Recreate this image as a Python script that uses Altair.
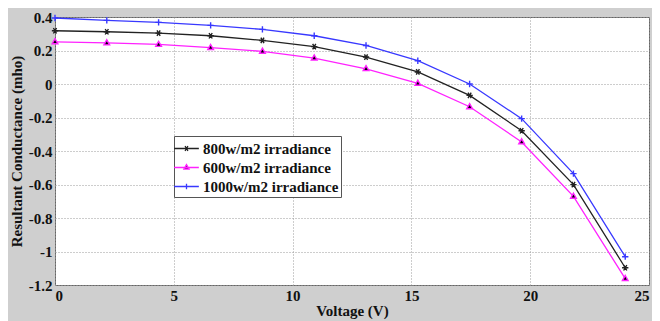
import altair as alt
import pandas as pd

voltage = [0.0, 2.18, 4.36, 6.55, 8.73, 10.91, 13.09, 15.27, 17.45, 19.64, 21.82, 24.0]
g800 = [0.318, 0.312, 0.304, 0.288, 0.260, 0.223, 0.161, 0.072, -0.068, -0.279, -0.601, -1.097]
g600 = [0.252, 0.245, 0.236, 0.217, 0.195, 0.155, 0.091, 0.004, -0.136, -0.346, -0.671, -1.162]
g1000 = [0.394, 0.380, 0.368, 0.350, 0.326, 0.288, 0.230, 0.139, 0.000, -0.207, -0.535, -1.031]

series_names = ["800w/m2 irradiance", "600w/m2 irradiance", "1000w/m2 irradiance"]
series_colors = ["#222222", "#ff22ff", "#3838ff"]
x_ticks = [0, 5, 10, 15, 20, 25]
y_ticks = [-1.2, -1.0, -0.8, -0.6, -0.4, -0.2, 0.0, 0.2, 0.4]

rows = []
for name, vals in zip(series_names, [g800, g600, g1000]):
    for v, g in zip(voltage, vals):
        rows.append({"V": v, "G": g, "series": name})
df = pd.DataFrame(rows)

FONT = "Liberation Serif"

marker_paths = [
    "M-1,0L1,0M-0.5,-0.87L0.5,0.87M-0.5,0.87L0.5,-0.87",
    "M0,-1L0.9,0.6L-0.9,0.6Z",
    "M-1,0L1,0M0,-1L0,1",
]
legend_paths = [
    "M-1.3,0L1.3,0M-0.3,0L0.3,0M-0.15,-0.26L0.15,0.26M-0.15,0.26L0.15,-0.26",
    "M-1.3,0L1.3,0M0,-0.3L0.27,0.17L-0.27,0.17Z",
    "M-1.3,0L1.3,0M0,-0.3L0,0.3",
]

xenc = alt.X("V:Q", scale=alt.Scale(domain=[0, 25], nice=False),
             axis=alt.Axis(values=x_ticks, title="Voltage (V)", format="d"))
yenc = alt.Y("G:Q", scale=alt.Scale(domain=[-1.2, 0.4], nice=False),
             axis=alt.Axis(values=y_ticks, title="Resultant Conductance (mho)",
                           labelExpr="datum.value == 0 ? '0' : toString(round(datum.value*10)/10)"))

color_scale = alt.Scale(domain=series_names, range=series_colors)

lines = alt.Chart(df).mark_line(strokeWidth=1.3).encode(
    x=xenc, y=yenc,
    color=alt.Color("series:N", scale=color_scale, legend=None),
    order="V:Q",
)

points = alt.Chart(df).mark_point(filled=False, fill="black", opacity=1, size=40, strokeWidth=1.4).encode(
    x=xenc, y=yenc,
    color=alt.Color("series:N", scale=color_scale, legend=None),
    shape=alt.Shape("series:N", scale=alt.Scale(domain=series_names, range=marker_paths), legend=None),
)

leg = alt.Legend(orient="none", legendX=119, legendY=119, title=None)
legend_layer = alt.Chart(df).transform_filter("false").mark_point(
    filled=False, fill="black", opacity=1, size=361, strokeWidth=1.3
).encode(
    x=xenc, y=yenc,
    color=alt.Color("series:N", scale=color_scale, legend=leg),
    shape=alt.Shape("series:N", scale=alt.Scale(domain=series_names, range=legend_paths), legend=leg),
)

chart = alt.layer(lines, points, legend_layer).resolve_scale(
    color="independent", shape="independent"
).properties(
    width=594, height=268,
    autosize=alt.AutoSizeParams(type="none"),
    padding={"left": 47, "top": 9, "right": 3, "bottom": 36},
    background="#cfcfcf",
).configure_view(
    fill="white", stroke="#666666", strokeWidth=1,
).configure_axis(
    labelFont=FONT, labelFontSize=15, labelFontWeight="bold", labelColor="#111111",
    titleFont=FONT, titleFontSize=15, titleFontWeight="bold", titleColor="#111111",
    grid=True, gridColor="#9a9a9a", gridDash=[1, 2], gridWidth=1,
    domain=False, ticks=False,
).configure_axisX(
    labelPadding=3, titlePadding=0,
).configure_axisY(
    labelPadding=3, titlePadding=4,
).configure_legend(
    labelFont=FONT, labelFontSize=15, labelFontWeight="bold", labelColor="#111111",
    strokeColor="#555555", fillColor="white", padding=2, symbolSize=361,
    symbolStrokeWidth=1.3, labelOffset=6, rowPadding=0, symbolOpacity=1,
)

chart.save("out.html", embed_options={"renderer": "svg", "actions": False})
